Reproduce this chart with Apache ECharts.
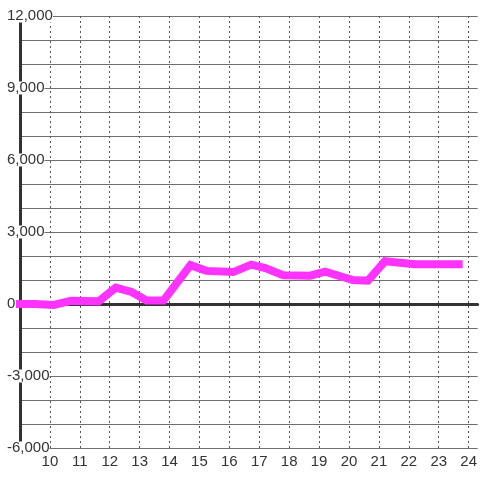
<!DOCTYPE html>
<html lang="en" style="height: 100%">
<head>
<meta charset="utf-8">
<title>Line chart</title>
</head>
<body style="height: 100%; margin: 0">
<div id="container" style="height: 100%"></div>

<script type="text/javascript" src="https://cdn.jsdelivr.net/npm/echarts/dist/echarts.min.js"></script>

<script type="text/javascript">

var dom = document.getElementById('container');
var myChart = echarts.init(dom, null, { width: 480, height: 480 });

// x positions and values of the line vertices
var xs = [8.8, 9.5, 10.13, 10.7, 11.63, 12.2, 12.73, 13.23, 13.8, 14.7, 15.23, 16.13,
          16.73, 17.2, 17.8, 18.7, 19.2, 20.13, 20.63, 21.2, 22.2, 23.8];
var ys = [0, 0, -40, 130, 110, 680, 500, 150, 150, 1620, 1380, 1330,
          1640, 1500, 1200, 1180, 1350, 1000, 970, 1780, 1660, 1660];

var yTicks = [-6000, -3000, 0, 3000, 6000, 9000, 12000];
var xTicks = [10, 11, 12, 13, 14, 15, 16, 17, 18, 19, 20, 21, 22, 23, 24];

var points = xs.map(function (x, i) { return [x, ys[i]]; });

var labelFont = { color: '#333', fontSize: 15, fontFamily: 'Liberation Sans, Arial, sans-serif' };

option = {
    animation: false,
    grid: { left: 20, right: 0, top: 16, bottom: 32, containLabel: false },
    xAxis: [{
        type: 'value',
        min: 9,
        max: 24.3,
        interval: 1,
        position: 'bottom',
        axisLine: { show: false, onZero: false },
        axisTick: { show: false },
        axisLabel: Object.assign({
            margin: 6,
            showMinLabel: false,
            showMaxLabel: false,
            formatter: function (v) { return xTicks.indexOf(v) >= 0 ? String(v) : ''; }
        }, labelFont),
        splitLine: {
            show: true,
            showMinLine: false,
            showMaxLine: false,
            lineStyle: { color: '#555', type: [2, 3], width: 1 }
        }
    }, {
        type: 'value',
        min: 9,
        max: 24.3,
        axisLine: { show: true, onZero: true, lineStyle: { color: '#333', width: 3 } },
        axisTick: { show: false },
        axisLabel: { show: false },
        splitLine: { show: false }
    }],
    yAxis: {
        type: 'value',
        min: -6000,
        max: 12000,
        interval: 1000,
        axisLine: { show: true, lineStyle: { color: '#333', width: 3 } },
        axisTick: { show: false },
        axisLabel: Object.assign({
            align: 'left',
            margin: 13,
            lineHeight: 13,
            backgroundColor: '#fff',
            formatter: function (v) {
                return yTicks.indexOf(v) >= 0 ? v.toLocaleString('en-US') : '';
            }
        }, labelFont),
        splitLine: { show: true, lineStyle: { color: '#6e6e6e', width: 1 } }
    },
    series: [{
        type: 'line',
        data: points,
        xAxisIndex: 0,
        clip: false,
        symbol: 'none',
        z: 5,
        lineStyle: { color: '#ff33ff', width: 8, cap: 'butt', join: 'miter' }
    }]
};

if (option && typeof option === 'object') {
    myChart.setOption(option);
}

window.addEventListener('resize', myChart.resize);
</script>
</body>
</html>
